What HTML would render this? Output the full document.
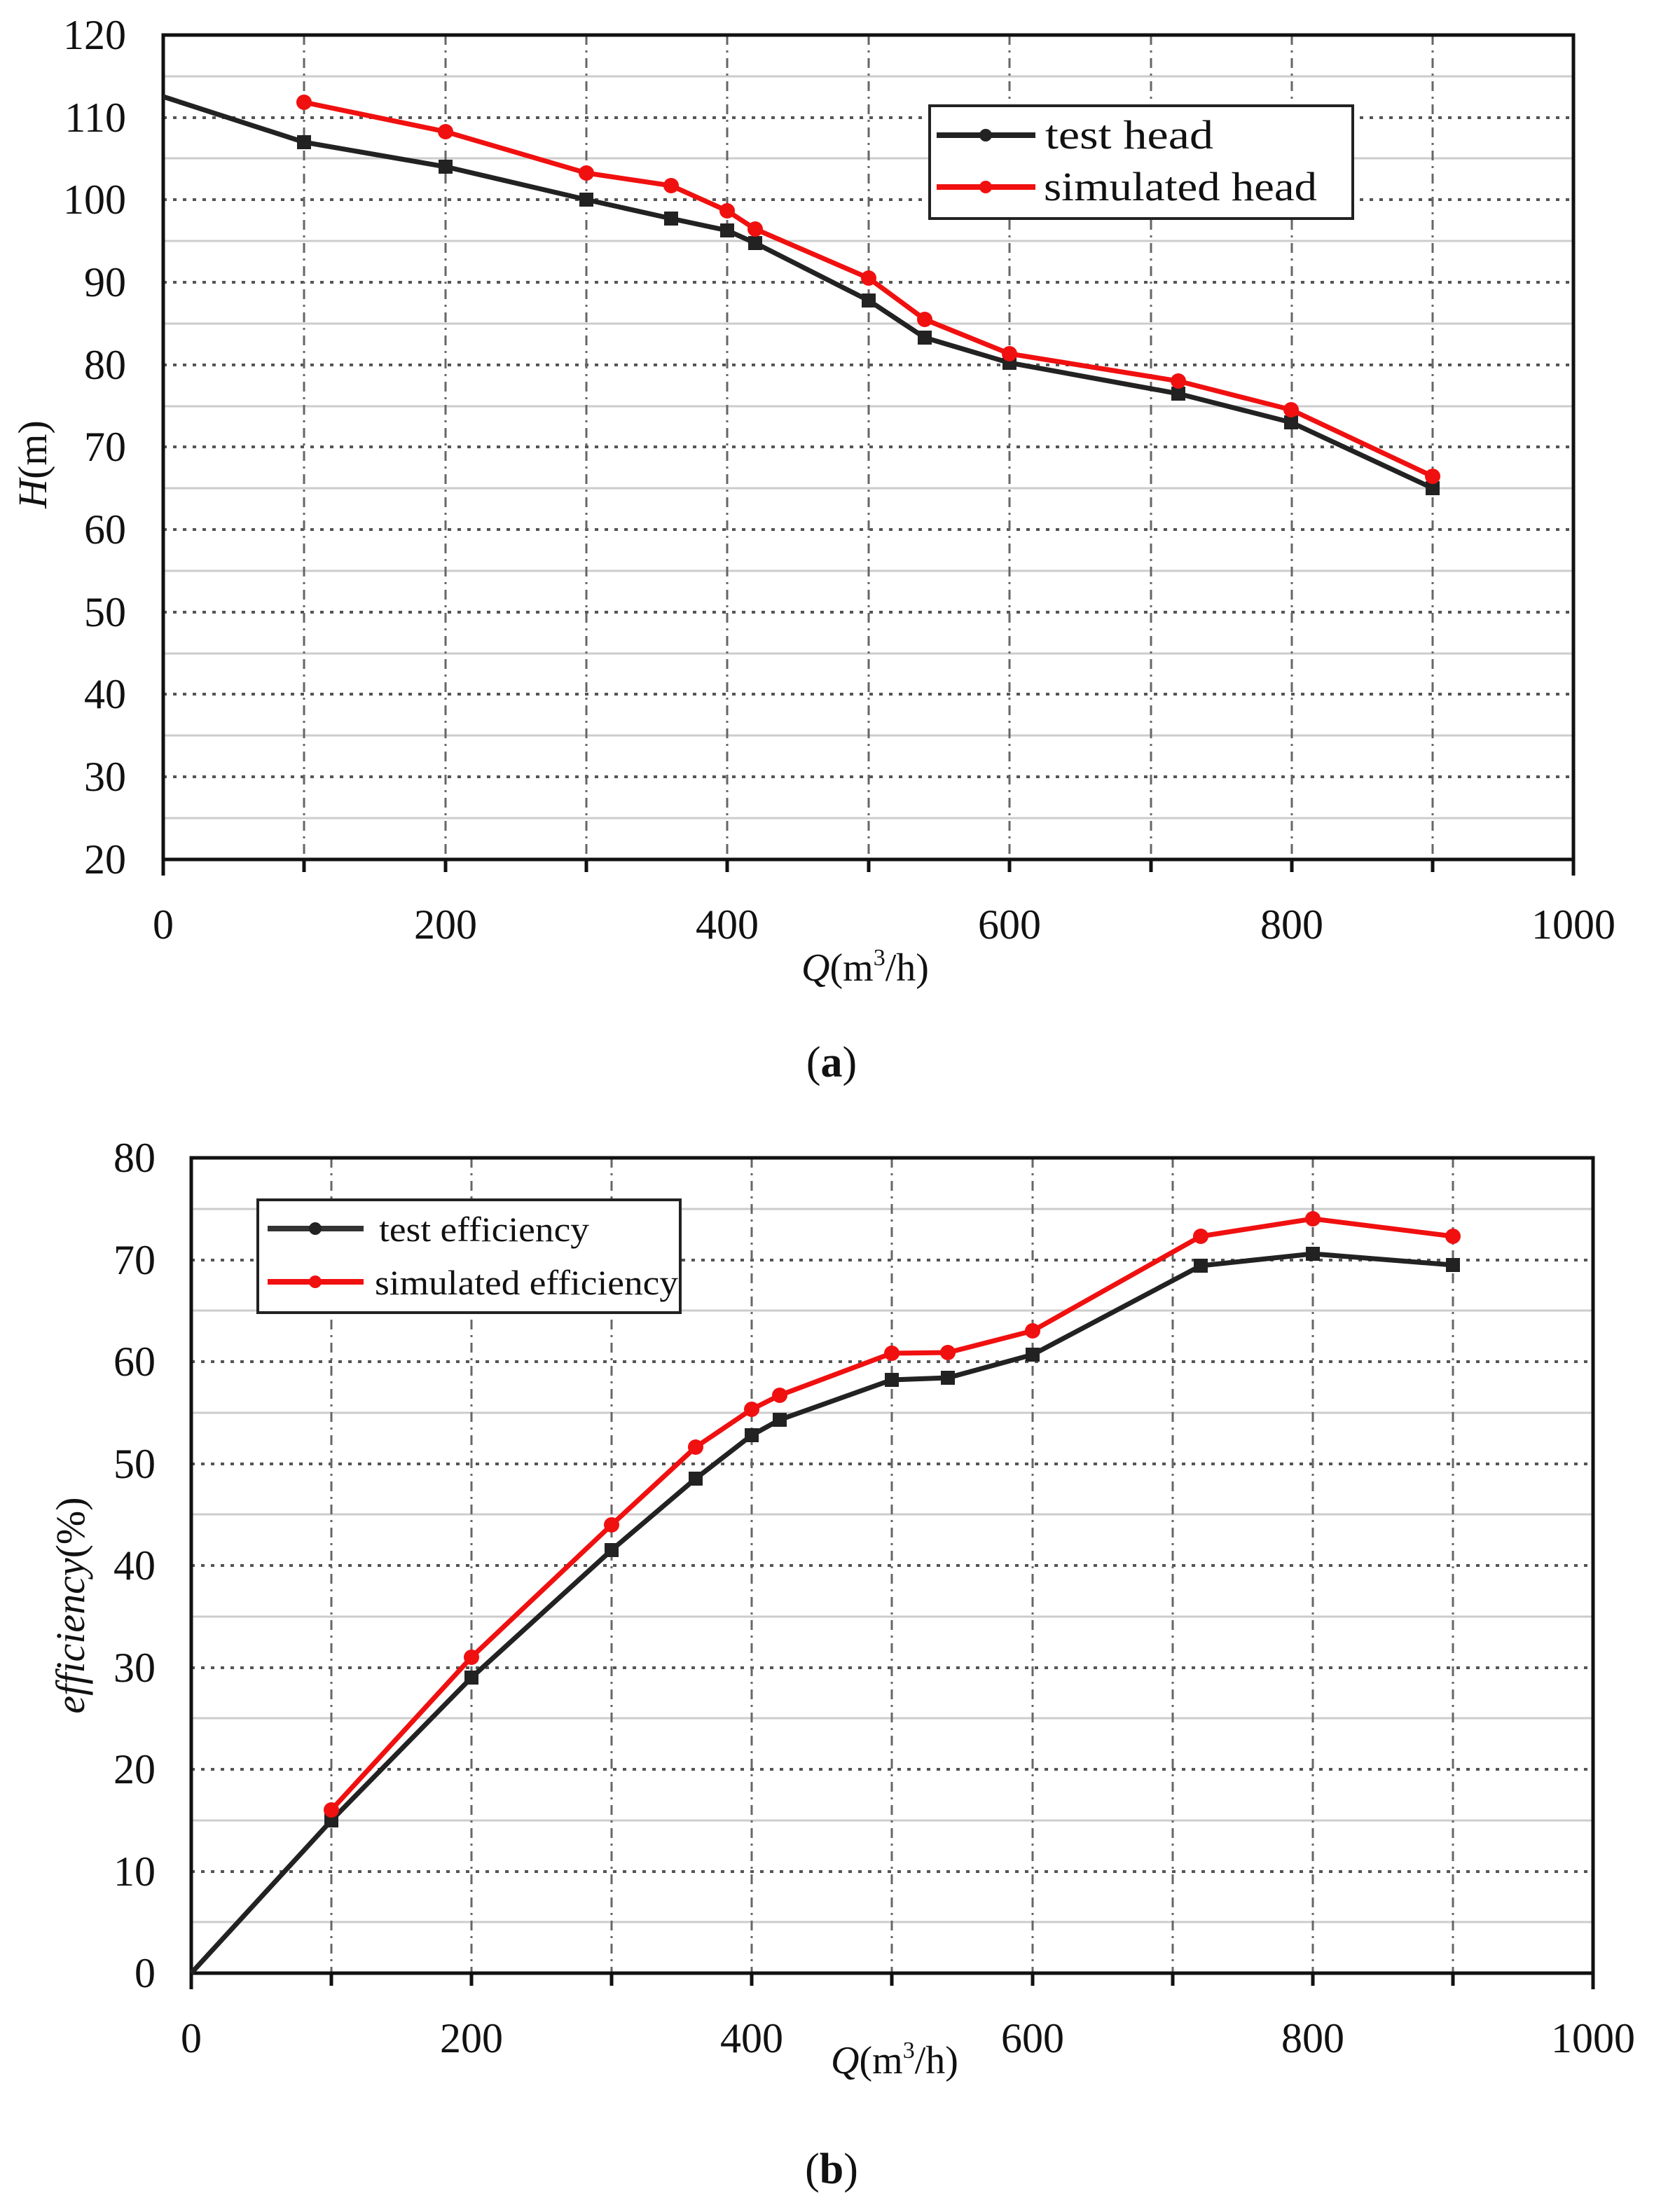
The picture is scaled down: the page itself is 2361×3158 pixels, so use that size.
<!DOCTYPE html>
<html><head><meta charset="utf-8"><style>
html,body{margin:0;padding:0;background:#fff}
svg{display:block}
text{font-family:"Liberation Serif",serif;fill:#111}
</style></head><body>
<svg width="2361" height="3158" viewBox="0 0 2361 3158" xmlns="http://www.w3.org/2000/svg">
<!-- ===== Chart a ===== -->
<g stroke="#ccc" stroke-width="3">
<line x1="233" x2="2246" y1="109" y2="109"/><line x1="233" x2="2246" y1="226" y2="226"/><line x1="233" x2="2246" y1="344" y2="344"/><line x1="233" x2="2246" y1="462" y2="462"/><line x1="233" x2="2246" y1="580" y2="580"/><line x1="233" x2="2246" y1="697" y2="697"/><line x1="233" x2="2246" y1="815" y2="815"/><line x1="233" x2="2246" y1="933" y2="933"/><line x1="233" x2="2246" y1="1050" y2="1050"/><line x1="233" x2="2246" y1="1168" y2="1168"/>
</g>
<g stroke="#555" stroke-width="4" stroke-dasharray="5,9">
<line x1="233" x2="2246" y1="168" y2="168"/><line x1="233" x2="2246" y1="285" y2="285"/><line x1="233" x2="2246" y1="403" y2="403"/><line x1="233" x2="2246" y1="521" y2="521"/><line x1="233" x2="2246" y1="638" y2="638"/><line x1="233" x2="2246" y1="756" y2="756"/><line x1="233" x2="2246" y1="874" y2="874"/><line x1="233" x2="2246" y1="991" y2="991"/><line x1="233" x2="2246" y1="1109" y2="1109"/>
</g>
<g stroke="#666" stroke-width="3" stroke-dasharray="14,8,3,8">
<line y1="50" y2="1227" x1="434" x2="434"/><line y1="50" y2="1227" x1="636" x2="636"/><line y1="50" y2="1227" x1="837" x2="837"/><line y1="50" y2="1227" x1="1038" x2="1038"/><line y1="50" y2="1227" x1="1240" x2="1240"/><line y1="50" y2="1227" x1="1441" x2="1441"/><line y1="50" y2="1227" x1="1643" x2="1643"/><line y1="50" y2="1227" x1="1844" x2="1844"/><line y1="50" y2="1227" x1="2045" x2="2045"/>
</g>
<rect x="233" y="50" width="2013" height="1177" fill="none" stroke="#111" stroke-width="5"/>
<g stroke="#111" stroke-width="5">
<line x1="434" x2="434" y1="1227" y2="1245"/><line x1="636" x2="636" y1="1227" y2="1245"/><line x1="837" x2="837" y1="1227" y2="1245"/><line x1="1038" x2="1038" y1="1227" y2="1245"/><line x1="1240" x2="1240" y1="1227" y2="1245"/><line x1="1441" x2="1441" y1="1227" y2="1245"/><line x1="1643" x2="1643" y1="1227" y2="1245"/><line x1="1844" x2="1844" y1="1227" y2="1245"/><line x1="2045" x2="2045" y1="1227" y2="1245"/><line x1="233" x2="233" y1="1227" y2="1250"/><line x1="2246" x2="2246" y1="1227" y2="1250"/>
</g>
<polyline fill="none" stroke="#222" stroke-width="7" points="233,138 434,203 636,238 837,285 958,312 1038,329 1078,347 1240,429 1320,482 1441,518 1682,562 1843,603 2045,697"/>
<g fill="#222"><rect x="424" y="193" width="20" height="20"/><rect x="626" y="228" width="20" height="20"/><rect x="827" y="275" width="20" height="20"/><rect x="948" y="302" width="20" height="20"/><rect x="1028" y="319" width="20" height="20"/><rect x="1068" y="337" width="20" height="20"/><rect x="1230" y="419" width="20" height="20"/><rect x="1310" y="472" width="20" height="20"/><rect x="1431" y="508" width="20" height="20"/><rect x="1672" y="552" width="20" height="20"/><rect x="1833" y="593" width="20" height="20"/><rect x="2035" y="687" width="20" height="20"/></g>
<polyline fill="none" stroke="#f01010" stroke-width="7" points="434,146 636,188 837,247 958,265 1038,301 1078,327 1240,397 1320,456 1441,505 1682,544 1843,585 2045,680"/>
<g fill="#f01010"><circle cx="434" cy="146" r="11"/><circle cx="636" cy="188" r="11"/><circle cx="837" cy="247" r="11"/><circle cx="958" cy="265" r="11"/><circle cx="1038" cy="301" r="11"/><circle cx="1078" cy="327" r="11"/><circle cx="1240" cy="397" r="11"/><circle cx="1320" cy="456" r="11"/><circle cx="1441" cy="505" r="11"/><circle cx="1682" cy="544" r="11"/><circle cx="1843" cy="585" r="11"/><circle cx="2045" cy="680" r="11"/></g>
<rect x="1327" y="151" width="604" height="161" fill="#fff" stroke="#222" stroke-width="4"/>
<line x1="1337" x2="1478" y1="193" y2="193" stroke="#222" stroke-width="8"/><circle cx="1407" cy="193" r="9" fill="#222"/>
<line x1="1337" x2="1478" y1="267" y2="267" stroke="#f01010" stroke-width="8"/><circle cx="1407" cy="267" r="9" fill="#f01010"/>
<text x="1492" y="212" font-size="58" textLength="240" lengthAdjust="spacingAndGlyphs">test head</text>
<text x="1490" y="286" font-size="58" textLength="390" lengthAdjust="spacingAndGlyphs">simulated head</text>
<g font-size="60" text-anchor="end">
<text x="180" y="70">120</text><text x="180" y="188">110</text><text x="180" y="305">100</text><text x="180" y="423">90</text><text x="180" y="541">80</text><text x="180" y="658">70</text><text x="180" y="776">60</text><text x="180" y="894">50</text><text x="180" y="1011">40</text><text x="180" y="1129">30</text><text x="180" y="1247">20</text>
</g>
<g font-size="60" text-anchor="middle">
<text x="233" y="1340">0</text><text x="636" y="1340">200</text><text x="1038" y="1340">400</text><text x="1441" y="1340">600</text><text x="1844" y="1340">800</text><text x="2246" y="1340">1000</text>
</g>
<text x="1235" y="1400" font-size="56" text-anchor="middle"><tspan font-style="italic">Q</tspan>(m<tspan font-size="34" dy="-22">3</tspan><tspan dy="22">/h)</tspan></text>
<text transform="translate(66,663) rotate(-90)" font-size="58" text-anchor="middle"><tspan font-style="italic">H</tspan>(m)</text>
<text x="1187" y="1537" font-size="62" text-anchor="middle">(<tspan font-weight="bold">a</tspan>)</text>

<!-- ===== Chart b ===== -->
<g stroke="#ccc" stroke-width="3">
<line x1="273" x2="2274" y1="2744" y2="2744"/><line x1="273" x2="2274" y1="2599" y2="2599"/><line x1="273" x2="2274" y1="2453" y2="2453"/><line x1="273" x2="2274" y1="2308" y2="2308"/><line x1="273" x2="2274" y1="2162" y2="2162"/><line x1="273" x2="2274" y1="2017" y2="2017"/><line x1="273" x2="2274" y1="1871" y2="1871"/><line x1="273" x2="2274" y1="1726" y2="1726"/>
</g>
<g stroke="#555" stroke-width="4" stroke-dasharray="5,9">
<line x1="273" x2="2274" y1="2672" y2="2672"/><line x1="273" x2="2274" y1="2526" y2="2526"/><line x1="273" x2="2274" y1="2381" y2="2381"/><line x1="273" x2="2274" y1="2235" y2="2235"/><line x1="273" x2="2274" y1="2090" y2="2090"/><line x1="273" x2="2274" y1="1944" y2="1944"/><line x1="273" x2="2274" y1="1799" y2="1799"/>
</g>
<g stroke="#666" stroke-width="3" stroke-dasharray="14,8,3,8">
<line y1="1653" y2="2817" x1="473" x2="473"/><line y1="1653" y2="2817" x1="673" x2="673"/><line y1="1653" y2="2817" x1="873" x2="873"/><line y1="1653" y2="2817" x1="1073" x2="1073"/><line y1="1653" y2="2817" x1="1273" x2="1273"/><line y1="1653" y2="2817" x1="1474" x2="1474"/><line y1="1653" y2="2817" x1="1674" x2="1674"/><line y1="1653" y2="2817" x1="1874" x2="1874"/><line y1="1653" y2="2817" x1="2074" x2="2074"/>
</g>
<rect x="273" y="1653" width="2001" height="1164" fill="none" stroke="#111" stroke-width="5"/>
<g stroke="#111" stroke-width="5">
<line x1="473" x2="473" y1="2817" y2="2835"/><line x1="673" x2="673" y1="2817" y2="2835"/><line x1="873" x2="873" y1="2817" y2="2835"/><line x1="1073" x2="1073" y1="2817" y2="2835"/><line x1="1273" x2="1273" y1="2817" y2="2835"/><line x1="1474" x2="1474" y1="2817" y2="2835"/><line x1="1674" x2="1674" y1="2817" y2="2835"/><line x1="1874" x2="1874" y1="2817" y2="2835"/><line x1="2074" x2="2074" y1="2817" y2="2835"/><line x1="273" x2="273" y1="2817" y2="2840"/><line x1="2274" x2="2274" y1="2817" y2="2840"/>
</g>
<polyline fill="none" stroke="#222" stroke-width="7" points="273,2817 473,2599 673,2395 873,2213 993,2111 1073,2049 1113,2027 1273,1970 1353,1967 1474,1934 1714,1807 1874,1790 2074,1806"/>
<g fill="#222"><rect x="463" y="2589" width="20" height="20"/><rect x="663" y="2385" width="20" height="20"/><rect x="863" y="2203" width="20" height="20"/><rect x="983" y="2101" width="20" height="20"/><rect x="1063" y="2039" width="20" height="20"/><rect x="1103" y="2017" width="20" height="20"/><rect x="1263" y="1960" width="20" height="20"/><rect x="1343" y="1957" width="20" height="20"/><rect x="1464" y="1924" width="20" height="20"/><rect x="1704" y="1797" width="20" height="20"/><rect x="1864" y="1780" width="20" height="20"/><rect x="2064" y="1796" width="20" height="20"/></g>
<polyline fill="none" stroke="#f01010" stroke-width="7" points="473,2584 673,2366 873,2177 993,2066 1073,2012 1113,1992 1273,1932 1353,1931 1474,1900 1714,1765 1874,1740 2074,1765"/>
<g fill="#f01010"><circle cx="473" cy="2584" r="11"/><circle cx="673" cy="2366" r="11"/><circle cx="873" cy="2177" r="11"/><circle cx="993" cy="2066" r="11"/><circle cx="1073" cy="2012" r="11"/><circle cx="1113" cy="1992" r="11"/><circle cx="1273" cy="1932" r="11"/><circle cx="1353" cy="1931" r="11"/><circle cx="1474" cy="1900" r="11"/><circle cx="1714" cy="1765" r="11"/><circle cx="1874" cy="1740" r="11"/><circle cx="2074" cy="1765" r="11"/></g>
<rect x="368" y="1713" width="603" height="161" fill="#fff" stroke="#222" stroke-width="4"/>
<line x1="382" x2="519" y1="1754" y2="1754" stroke="#333" stroke-width="8"/><circle cx="450" cy="1754" r="9" fill="#222"/>
<line x1="382" x2="519" y1="1830" y2="1830" stroke="#f01010" stroke-width="8"/><circle cx="450" cy="1830" r="9" fill="#f01010"/>
<text x="541" y="1772" font-size="50" textLength="300" lengthAdjust="spacingAndGlyphs">test efficiency</text>
<text x="535" y="1848" font-size="50" textLength="433" lengthAdjust="spacingAndGlyphs">simulated efficiency</text>
<g font-size="60" text-anchor="end">
<text x="222" y="2837">0</text><text x="222" y="2692">10</text><text x="222" y="2546">20</text><text x="222" y="2401">30</text><text x="222" y="2255">40</text><text x="222" y="2110">50</text><text x="222" y="1964">60</text><text x="222" y="1819">70</text><text x="222" y="1673">80</text>
</g>
<g font-size="60" text-anchor="middle">
<text x="273" y="2930">0</text><text x="673" y="2930">200</text><text x="1073" y="2930">400</text><text x="1474" y="2930">600</text><text x="1874" y="2930">800</text><text x="2274" y="2930">1000</text>
</g>
<text x="1277" y="2960" font-size="56" text-anchor="middle"><tspan font-style="italic">Q</tspan>(m<tspan font-size="34" dy="-22">3</tspan><tspan dy="22">/h)</tspan></text>
<text transform="translate(120,2292) rotate(-90)" font-size="58" text-anchor="middle"><tspan font-style="italic">efficiency</tspan>(%)</text>
<text x="1187" y="3117" font-size="62" text-anchor="middle">(<tspan font-weight="bold">b</tspan>)</text>
</svg>
</body></html>
